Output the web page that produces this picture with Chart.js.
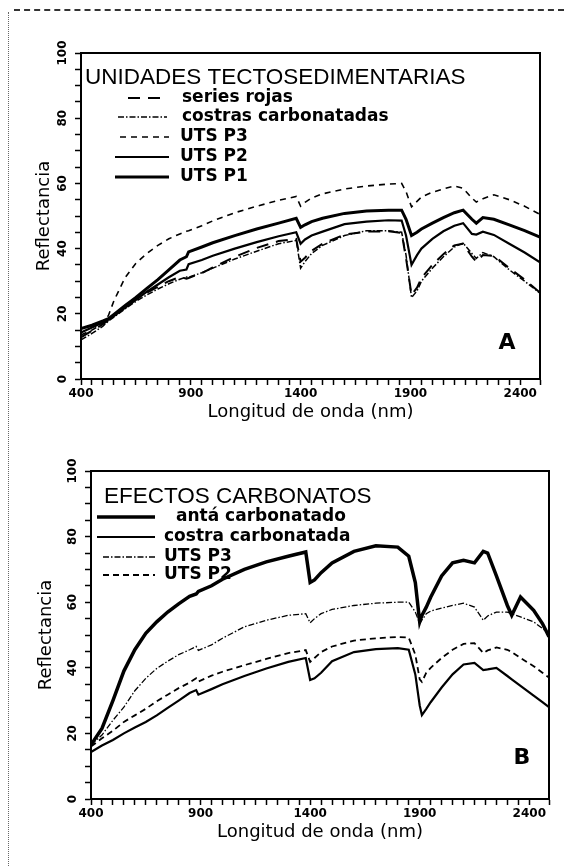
<!DOCTYPE html>
<html>
<head>
<meta charset="utf-8">
<script src="https://cdn.jsdelivr.net/npm/chart.js@4.4.1/dist/chart.umd.min.js"></script>
<style>
  body { margin: 0; background: #fff; }
  #page { position: relative; width: 564px; height: 866px; overflow: hidden; background: #fff; }
  .scan-top { position: absolute; left: 14px; top: 9px; width: 550px; border-top: 2px dashed #333; }
  .scan-left { position: absolute; left: 8px; top: 12px; height: 854px; border-left: 1px dotted #666; }
  .panel { position: absolute; left: 0; }
  canvas { display: block; }
</style>
</head>
<body>
<div id="page">
  <div class="scan-top"></div>
  <div class="scan-left"></div>
  <div class="panel" style="top:0"><canvas id="chartA" width="564" height="430"></canvas></div>
  <div class="panel" style="top:430px"><canvas id="chartB" width="564" height="436"></canvas></div>
</div>
<script>
// --- Panel A: unidades tectosedimentarias ---
const wavelengthsA = [400, 450, 500, 525, 550, 600, 650, 700, 750, 800, 850, 880, 890, 950, 1000, 1100, 1200, 1300, 1380, 1400, 1420, 1450, 1500, 1600, 1700, 1800, 1860, 1880, 1905, 1930, 1950, 2000, 2050, 2100, 2140, 2180, 2200, 2230, 2280, 2350, 2420, 2490];
const seriesRojas = [12.8, 14.8, 16.8, 18, 19.5, 22, 24.5, 26.5, 28.3, 30, 31.3, 30.8, 31, 32.5, 34.2, 37.5, 40.2, 42.3, 43, 36, 37.2, 39.3, 41.5, 44.3, 45.2, 45.3, 44.8, 37, 25.8, 28, 31, 35, 38.3, 41, 41.5, 37.5, 36, 38, 37.8, 34, 30.5, 26.5];
const costrasCarbonatadas = [12, 14, 16.2, 17.8, 19, 21.5, 23.8, 25.8, 27.6, 29.2, 30.6, 31.3, 31.2, 32.6, 34, 36.8, 39.2, 41.5, 42.5, 34, 36, 38.5, 41, 44, 45.5, 45.5, 45, 38, 25, 27, 30, 34, 37.5, 40.5, 41.7, 38.5, 37, 38.8, 37.5, 33.5, 30, 26.3];
const utsP3A = [13.5, 15, 17, 19.5, 24, 31, 35.5, 38.5, 41, 43, 44.5, 45.3, 45.5, 47, 48.5, 51, 53, 54.8, 56, 53, 54.2, 55.5, 56.8, 58.3, 59.2, 59.8, 60, 57.5, 52.8, 54.5, 55.8, 57.3, 58.3, 59.2, 58.5, 55.5, 54.3, 55.3, 56.5, 55, 53, 50.5];
const utsP2A = [14.3, 15.8, 17.3, 18.2, 19.3, 21.8, 24.3, 26.8, 29, 31.2, 33.2, 33.6, 35.2, 36.5, 37.8, 40, 42, 43.8, 45, 41.5, 42.8, 44, 45.2, 47.5, 48.3, 48.7, 48.6, 44, 35, 38, 40, 43, 45.3, 47, 47.8, 44.5, 44.3, 45.2, 44.2, 41.5, 38.8, 35.8];
const utsP1A = [15.5, 16.5, 17.8, 18.5, 19.8, 22.5, 25, 27.8, 30.5, 33.5, 36.5, 37.5, 39, 40.5, 41.8, 44, 46, 47.8, 49.3, 46.5, 47.3, 48.3, 49.3, 50.8, 51.5, 51.8, 51.8, 49, 44, 45, 46, 47.8, 49.5, 51, 51.8, 49, 47.8, 49.5, 49, 47.3, 45.5, 43.5];

// --- Panel B: efectos carbonatos ---
const wavelengthsB = [400, 450, 500, 550, 600, 650, 700, 750, 800, 850, 880, 890, 950, 1000, 1100, 1200, 1300, 1380, 1400, 1420, 1450, 1500, 1600, 1700, 1800, 1850, 1880, 1900, 1910, 1930, 1950, 2000, 2050, 2100, 2150, 2190, 2210, 2250, 2300, 2320, 2360, 2420, 2460, 2490];
const antaCarbonatado = [16.5, 21.5, 30, 39, 45.5, 50.5, 54, 57, 59.5, 61.8, 62.5, 63.3, 65, 67, 70, 72.3, 74, 75.3, 66, 66.8, 69, 72, 75.5, 77.2, 76.8, 74, 66, 54, 56, 58.5, 61.5, 68, 72, 72.8, 72, 75.5, 75, 68, 59, 56, 61.6, 57.5, 53.5, 49.5];
const costraCarbonatada = [14.3, 16.3, 18, 20, 21.8, 23.5, 25.5, 27.8, 30, 32.3, 33.2, 31.8, 33.5, 35, 37.5, 39.8, 41.8, 43, 36.3, 36.8, 38.5, 42, 44.8, 45.7, 46, 45.5, 38, 28.5, 25.6, 27.5, 29.5, 34, 38, 41, 41.5, 39.3, 39.5, 40, 37.5, 36.5, 34.5, 31.5, 29.5, 28];
const utsP3B = [16.5, 19.5, 24, 28, 33, 36.8, 39.8, 42, 44, 45.5, 46.5, 45.3, 47, 49, 52.5, 54.5, 56, 56.5, 53.7, 55, 56.5, 57.8, 59, 59.7, 60, 60, 57, 53.5, 54.5, 56.5, 57.3, 58.2, 59, 59.7, 58.5, 54.5, 55.8, 57, 57, 56.5, 55.5, 54, 52, 50.5];
const utsP2B = [16, 18.5, 20.8, 23.5, 25.5, 27.5, 29.8, 31.8, 33.8, 35.5, 36.8, 35.8, 37.6, 38.8, 40.8, 42.7, 44.5, 45.4, 41.8, 43, 44.8, 46.5, 48.3, 49, 49.4, 49.2, 44, 36.5, 35.7, 38.5, 40, 43, 45.5, 47.3, 47.5, 44.5, 45.3, 46.2, 45.5, 44.8, 43, 40.5, 38.5, 37];

const xTickLabels = [400, 900, 1400, 1900, 2400];
const yTickLabels = [0, 20, 40, 60, 80, 100];

const tickFont = { family: 'DejaVu Sans', size: 12, weight: 'bold' };
const axisTitleFont = { family: 'DejaVu Sans', size: 18 };

function toPoints(xs, ys) {
    return xs.map((x, i) => ({ x: x, y: ys[i] }));
}

// marco, leyenda interna y letra del panel
const panelDecor = {
    id: 'panelDecor',
    afterDatasetsDraw(chart, args, opts) {
        const ctx = chart.ctx;
        const a = chart.chartArea;
        ctx.save();
        ctx.strokeStyle = '#000';
        ctx.fillStyle = '#000';
        ctx.lineWidth = 2;
        ctx.beginPath();
        ctx.moveTo(a.left, a.top);
        ctx.lineTo(a.right, a.top);
        ctx.lineTo(a.right, a.bottom);
        ctx.stroke();

        ctx.textBaseline = 'middle';
        ctx.textAlign = 'left';
        ctx.font = opts.titleFont;
        ctx.fillText(opts.title, a.left + opts.titleX, a.top + opts.titleY);

        chart.data.datasets.forEach((ds, i) => {
            const r = opts.rows[i];
            const y = a.top + r.y;
            ctx.save();
            ctx.lineWidth = ds.borderWidth;
            ctx.setLineDash(ds.borderDash || []);
            ctx.beginPath();
            ctx.moveTo(a.left + r.x0, y);
            ctx.lineTo(a.left + r.x1, y);
            ctx.stroke();
            ctx.restore();
            ctx.font = opts.rowFont;
            ctx.fillText(ds.label, a.left + r.tx, y);
        });

        ctx.font = opts.letterFont;
        ctx.textAlign = 'center';
        ctx.fillText(opts.letter, a.right + opts.letterX, a.bottom + opts.letterY);
        ctx.restore();
    }
};

function buildScales(cfg) {
    return {
        x: {
            type: 'linear',
            min: 400,
            max: 2490,
            afterFit: (scale) => { scale.height = cfg.xHeight; },
            border: { display: true, color: '#000', width: 2 },
            grid: { display: true, drawOnChartArea: false, drawTicks: true, tickLength: 6, color: '#000', tickWidth: 1.5 },
            ticks: {
                stepSize: 50,
                autoSkip: false,
                minRotation: 0,
                maxRotation: 0,
                padding: 2,
                color: '#000',
                font: tickFont,
                callback: (v) => xTickLabels.includes(v) ? String(v) : ''
            },
            title: {
                display: true,
                text: 'Longitud de onda (nm)',
                color: '#000',
                font: axisTitleFont,
                padding: { top: 0, bottom: cfg.xTitlePad }
            }
        },
        y: {
            type: 'linear',
            min: 0,
            max: 100,
            afterFit: (scale) => { scale.width = cfg.yWidth; },
            border: { display: true, color: '#000', width: 2 },
            grid: { display: true, drawOnChartArea: false, drawTicks: true, tickLength: 6, color: '#000', tickWidth: 1.5 },
            ticks: {
                stepSize: 5,
                autoSkip: false,
                minRotation: 90,
                maxRotation: 90,
                crossAlign: 'center',
                padding: cfg.yTickPad,
                color: '#000',
                font: tickFont,
                callback: (v) => yTickLabels.includes(v) ? String(v) : ''
            },
            title: {
                display: true,
                text: 'Reflectancia',
                color: '#000',
                font: axisTitleFont,
                padding: { top: cfg.yTitlePad, bottom: 0 }
            }
        }
    };
}

function lineSet(label, xs, ys, width, dash) {
    return {
        label: label,
        data: toPoints(xs, ys),
        borderColor: '#000',
        backgroundColor: '#000',
        borderWidth: width,
        borderDash: dash,
        pointRadius: 0,
        tension: 0,
        fill: false
    };
}

new Chart(document.getElementById('chartA'), {
    type: 'line',
    data: {
        datasets: [
            lineSet('series rojas', wavelengthsA, seriesRojas, 2, [12, 8]),
            lineSet('costras carbonatadas', wavelengthsA, costrasCarbonatadas, 1.5, [6, 2, 1.5, 2]),
            lineSet('UTS P3', wavelengthsA, utsP3A, 1.6, [6, 5]),
            lineSet('UTS P2', wavelengthsA, utsP2A, 2.2, []),
            lineSet('UTS P1', wavelengthsA, utsP1A, 3, [])
        ]
    },
    options: {
        responsive: false,
        animation: false,
        devicePixelRatio: 1,
        layout: { padding: { top: 53, right: 24, left: 0, bottom: 0 } },
        scales: buildScales({ xHeight: 51, yWidth: 81, xTitlePad: 7, yTitlePad: 34, yTickPad: 0 }),
        plugins: {
            legend: { display: false },
            tooltip: { enabled: false },
            panelDecor: {
                title: 'UNIDADES TECTOSEDIMENTARIAS',
                titleFont: '22.5px "Liberation Sans"',
                titleX: 4,
                titleY: 25,
                rowFont: 'bold 17px "DejaVu Sans"',
                rows: [
                    { x0: 47, x1: 86, tx: 101, y: 45 },
                    { x0: 37, x1: 86, tx: 101, y: 64 },
                    { x0: 39, x1: 88, tx: 99, y: 84 },
                    { x0: 34, x1: 88, tx: 99, y: 104 },
                    { x0: 34, x1: 88, tx: 99, y: 124 }
                ],
                letter: 'A',
                letterFont: 'bold 22px "DejaVu Sans"',
                letterX: -33,
                letterY: -36
            }
        }
    },
    plugins: [panelDecor]
});

new Chart(document.getElementById('chartB'), {
    type: 'line',
    data: {
        datasets: [
            lineSet('antá carbonatado', wavelengthsB, antaCarbonatado, 3.5, []),
            lineSet('costra carbonatada', wavelengthsB, costraCarbonatada, 2.2, []),
            lineSet('UTS P3', wavelengthsB, utsP3B, 1.3, [6, 2, 1.5, 2]),
            lineSet('UTS P2', wavelengthsB, utsP2B, 1.8, [6, 4])
        ]
    },
    options: {
        responsive: false,
        animation: false,
        devicePixelRatio: 1,
        layout: { padding: { top: 41, right: 15, left: 0, bottom: 0 } },
        scales: buildScales({ xHeight: 67, yWidth: 91, xTitlePad: 23, yTitlePad: 36, yTickPad: 0 }),
        plugins: {
            legend: { display: false },
            tooltip: { enabled: false },
            panelDecor: {
                title: 'EFECTOS CARBONATOS',
                titleFont: '22.5px "Liberation Sans"',
                titleX: 13,
                titleY: 26,
                rowFont: 'bold 17px "DejaVu Sans"',
                rows: [
                    { x0: 6, x1: 64, tx: 85, y: 46 },
                    { x0: 6, x1: 64, tx: 73, y: 66 },
                    { x0: 12, x1: 64, tx: 73, y: 86 },
                    { x0: 12, x1: 64, tx: 73, y: 104 }
                ],
                letter: 'B',
                letterFont: 'bold 22px "DejaVu Sans"',
                letterX: -27,
                letterY: -41
            }
        }
    },
    plugins: [panelDecor]
});
</script>
</body>
</html>
